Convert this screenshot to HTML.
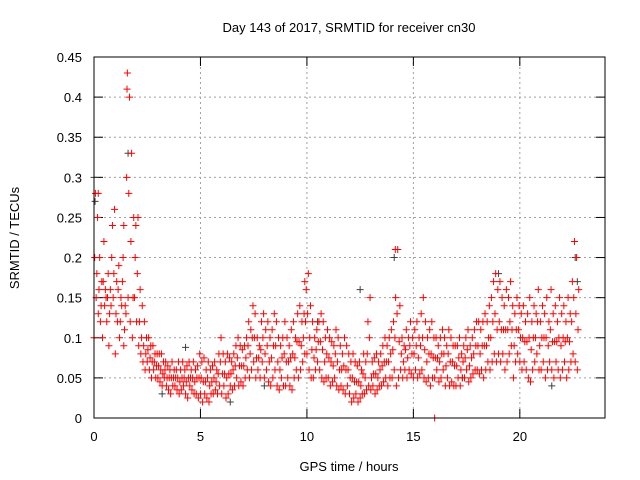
<!DOCTYPE html>
<html><head><meta charset="utf-8"><style>
body{margin:0;background:#fff}
svg{display:block;font-family:"Liberation Sans",sans-serif;font-size:13px}
</style></head><body>
<svg id="c" width="640" height="480" viewBox="0 0 640 480">
<rect width="640" height="480" fill="#fff"/>
<text x="349" y="32" text-anchor="middle">Day 143 of 2017, SRMTID for receiver cn30</text>
<text x="349" y="471" text-anchor="middle">GPS time / hours</text>
<text transform="translate(19,238) rotate(-90)" text-anchor="middle">SRMTID / TECUs</text>
<g id="grid"></g><g id="ticks"></g><g id="pts"></g>
<rect x="94" y="57" width="511" height="361" fill="none" stroke="#000"/>
</svg>
<script>
const xTicks=[0,5,10,15,20];
const yTicks=[0,0.05,0.1,0.15,0.2,0.25,0.3,0.35,0.4,0.45];
const yLabels=["0","0.05","0.1","0.15","0.2","0.25","0.3","0.35","0.4","0.45"];
const redHigh=[0.28,0.25,0.2,0.17,0.22,0.15,0.18,0.16,0.24,0.26,
0.17,0.19,0.15,0.2,0.14,0.43,0.4,0.33,0.25,0.24,
0.25,0.16,0.14,0.12,0.1,0.1,0.09,0.09,0.08,0.08,
0.08,0.08,0.07,0.07,0.065,0.06,0.07,0.06,0.06,0.07,
0.06,0.07,0.06,0.065,0.07,0.06,0.07,0.06,0.065,0.08,
0.07,0.075,0.06,0.07,0.06,0.065,0.07,0.06,0.08,0.1,
0.08,0.07,0.08,0.075,0.07,0.08,0.09,0.1,0.09,0.085,
0.09,0.1,0.12,0.11,0.14,0.13,0.1,0.09,0.12,0.13,
0.11,0.12,0.1,0.11,0.13,0.12,0.1,0.09,0.1,0.12,
0.1,0.09,0.11,0.12,0.1,0.13,0.14,0.12,0.13,0.16,
0.18,0.14,0.12,0.1,0.11,0.12,0.13,0.12,0.1,0.11,
0.1,0.095,0.09,0.11,0.1,0.09,0.08,0.1,0.09,0.08,
0.07,0.08,0.07,0.065,0.07,0.06,0.08,0.07,0.12,0.15,
0.07,0.075,0.08,0.07,0.08,0.09,0.1,0.09,0.1,0.11,
0.12,0.15,0.21,0.14,0.1,0.09,0.11,0.1,0.12,0.1,
0.11,0.12,0.1,0.13,0.15,0.12,0.1,0.11,0.12,0.1,
0.1,0.09,0.1,0.11,0.1,0.09,0.11,0.1,0.09,0.09,
0.09,0.1,0.08,0.09,0.1,0.11,0.09,0.1,0.11,0.12,
0.12,0.11,0.12,0.13,0.12,0.14,0.15,0.17,0.18,0.16,
0.17,0.15,0.14,0.16,0.15,0.17,0.14,0.13,0.15,0.14,
0.13,0.14,0.12,0.13,0.15,0.12,0.14,0.13,0.16,0.12,
0.14,0.13,0.15,0.12,0.16,0.13,0.14,0.12,0.15,0.13,
0.14,0.12,0.15,0.13,0.17,0.22,0.2,0.16];
const redLow=[0.1,0.15,0.13,0.12,0.1,0.14,0.12,0.09,0.14,0.15,
0.08,0.12,0.1,0.14,0.09,0.13,0.15,0.12,0.1,0.15,
0.12,0.09,0.08,0.07,0.06,0.07,0.06,0.05,0.06,0.05,
0.05,0.045,0.04,0.05,0.04,0.035,0.03,0.04,0.04,0.035,
0.03,0.035,0.04,0.03,0.025,0.04,0.035,0.03,0.03,0.025,
0.03,0.02,0.03,0.025,0.02,0.03,0.03,0.035,0.03,0.04,
0.03,0.04,0.025,0.03,0.04,0.035,0.04,0.05,0.04,0.045,
0.04,0.05,0.06,0.05,0.06,0.07,0.05,0.06,0.05,0.07,
0.05,0.06,0.045,0.04,0.05,0.06,0.04,0.035,0.05,0.04,
0.04,0.05,0.04,0.035,0.05,0.06,0.05,0.06,0.07,0.08,
0.08,0.06,0.05,0.05,0.06,0.07,0.06,0.05,0.045,0.05,
0.05,0.04,0.045,0.05,0.04,0.035,0.04,0.035,0.03,0.04,
0.03,0.02,0.025,0.03,0.02,0.025,0.03,0.03,0.035,0.04,
0.035,0.04,0.03,0.035,0.04,0.04,0.045,0.05,0.04,0.05,
0.05,0.06,0.04,0.05,0.06,0.05,0.06,0.05,0.06,0.055,
0.05,0.06,0.05,0.055,0.06,0.05,0.045,0.05,0.04,0.05,
0.05,0.06,0.045,0.05,0.06,0.04,0.05,0.04,0.045,0.04,
0.04,0.05,0.04,0.05,0.05,0.06,0.045,0.05,0.055,0.06,
0.06,0.055,0.06,0.05,0.06,0.07,0.06,0.07,0.08,0.07,
0.08,0.07,0.08,0.06,0.07,0.08,0.09,0.05,0.07,0.08,
0.07,0.06,0.07,0.06,0.05,0.045,0.06,0.07,0.08,0.06,
0.06,0.07,0.05,0.06,0.07,0.06,0.05,0.07,0.06,0.05,
0.06,0.07,0.05,0.06,0.07,0.08,0.07,0.06];
const redMid=[0.2,0.18,0.16,0.14,0.17,0.16,0.15,0.13,0.2,0.18,
0.13,0.16,0.12,0.17,0.11,0.3,0.28,0.22,0.15,0.2,
0.18,0.12,0.1,0.09,0.08,0.085,0.075,0.07,0.07,0.065,
0.065,0.06,0.055,0.06,0.05,0.05,0.05,0.05,0.05,0.05,
0.045,0.05,0.05,0.045,0.05,0.05,0.05,0.045,0.05,0.05,
0.05,0.045,0.045,0.05,0.04,0.045,0.05,0.045,0.055,0.07,
0.055,0.055,0.05,0.055,0.055,0.06,0.065,0.075,0.065,0.065,
0.065,0.075,0.09,0.08,0.1,0.1,0.075,0.075,0.085,0.1,
0.08,0.09,0.07,0.075,0.09,0.09,0.07,0.06,0.075,0.08,
0.07,0.07,0.075,0.08,0.075,0.095,0.095,0.09,0.1,0.12,
0.13,0.1,0.085,0.075,0.085,0.095,0.095,0.085,0.07,0.08,
0.075,0.07,0.065,0.08,0.07,0.06,0.06,0.065,0.06,0.06,
0.05,0.05,0.045,0.045,0.045,0.04,0.055,0.05,0.08,0.1,
0.05,0.055,0.055,0.05,0.06,0.065,0.07,0.07,0.07,0.08,
0.085,0.1,0.13,0.095,0.08,0.07,0.085,0.075,0.09,0.08,
0.08,0.09,0.075,0.09,0.1,0.085,0.07,0.08,0.08,0.075,
0.075,0.075,0.07,0.08,0.08,0.065,0.08,0.07,0.07,0.065,
0.065,0.075,0.06,0.07,0.075,0.085,0.065,0.075,0.08,0.09,
0.09,0.08,0.09,0.09,0.09,0.1,0.1,0.12,0.13,0.11,
0.12,0.11,0.11,0.11,0.11,0.12,0.11,0.09,0.11,0.11,
0.1,0.1,0.095,0.095,0.1,0.085,0.1,0.1,0.12,0.09,
0.1,0.1,0.1,0.09,0.11,0.095,0.095,0.095,0.1,0.09,
0.1,0.095,0.1,0.095,0.12,0.15,0.13,0.11];
const blackTimes=[0,0.05,1.6,4.3,12.5,14.1,19.0,22.6,22.7,10.5,8.0,21.5,6.4,3.2,17.3];
const blackVals=[0.3,0.27,0.33,0.088,0.16,0.2,0.18,0.2,0.17,0.12,0.04,0.04,0.02,0.03,0.05];
const redExtraTimes=[16.0,0.2,1.4,1.55,9.9,14.15];
const redExtraVals=[0.0,0.28,0.24,0.41,0.17,0.21];

const X=t=>94+t*(511/24), Y=v=>418-v*(361/0.45);
const ns="http://www.w3.org/2000/svg";
const grid=document.getElementById('grid'),tk=document.getElementById('ticks'),pts=document.getElementById('pts');
function mk(tag,attrs,parent){const e=document.createElementNS(ns,tag);for(const k in attrs)e.setAttribute(k,attrs[k]);parent.appendChild(e);return e;}
xTicks.forEach(t=>{
  const x=X(t);
  if(t>0){const g=mk('line',{x1:x,x2:x,y1:57,y2:418,stroke:'#a0a0a0','stroke-dasharray':'2,3'},grid);
  
  }
  mk('line',{x1:x,x2:x,y1:418,y2:409,stroke:'#000'},tk);
  mk('line',{x1:x,x2:x,y1:57,y2:66,stroke:'#000'},tk);
  const l=mk('text',{x:x,y:441,'text-anchor':'middle'},tk);l.textContent=t;
  
  
});
yTicks.forEach((v,i)=>{
  const y=Y(v);
  if(i>0&&i<yTicks.length-1){const g=mk('line',{x1:94,x2:605,y1:y,y2:y,stroke:'#a0a0a0','stroke-dasharray':'2,3'},grid);
  
  }
  mk('line',{x1:94,x2:103,y1:y,y2:y,stroke:'#000'},tk);
  mk('line',{x1:596,x2:605,y1:y,y2:y,stroke:'#000'},tk);
  const l=mk('text',{x:82,y:y+5,'text-anchor':'end'},tk);l.textContent=yLabels[i];
  
  
});
function plus(t,v,col,name){
  const x=X(t),y=Y(v);
  const p=mk('path',{d:`M${x-3.5},${y}h7M${x},${y-3.5}v7`,stroke:col,'stroke-width':1,fill:'none'},pts);
  
  
}
blackTimes.forEach((t,i)=>plus(t,blackVals[i],'#404040','black-point'));
[redLow,redMid,redHigh].forEach((arr,k)=>arr.forEach((v,i)=>plus(i*0.1+k*0.033,v,'#ff0000','red-point')));
redExtraTimes.forEach((t,i)=>plus(t,redExtraVals[i],'#ff0000','red-point'));
</script>
</body></html>
